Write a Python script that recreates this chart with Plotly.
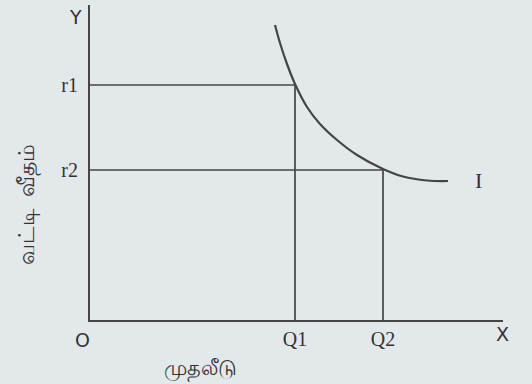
import plotly.graph_objects as go

# quantities (chart units, x: investment, y: interest rate)
q_vals = [205, 293]
r_vals = [235, 150]
q_labels = ["Q1", "Q2"]
r_labels = ["r1", "r2"]

# investment demand curve I
curve_x = [185, 190, 197, 205, 217, 230, 247, 267, 293, 313, 337, 358]
curve_y = [295, 277, 256, 236, 213, 196, 180, 165, 151, 143.5, 139.5, 139]

line_col = "#454545"
bg = "#e3e8eb"

# guide lines r -> curve -> Q
gx, gy = [], []
for q, r in zip(q_vals, r_vals):
    gx += [0, q, q, None]
    gy += [r, r, 0, None]

fig = go.Figure()
fig.add_trace(go.Scatter(x=gx, y=gy, mode="lines", line=dict(color=line_col, width=1.7), hoverinfo="skip"))
fig.add_trace(go.Scatter(x=curve_x, y=curve_y, mode="lines", line=dict(color=line_col, width=2.2, shape="spline", smoothing=1), hoverinfo="skip"))

serif = "Liberation Serif, DejaVu Serif, serif"
fig.update_layout(
    width=532, height=384,
    margin=dict(l=90, r=29, t=5, b=64),
    paper_bgcolor=bg, plot_bgcolor=bg,
    showlegend=False,
    xaxis=dict(range=[0, 413], showgrid=False, zeroline=False, showline=True, linecolor=line_col, linewidth=2,
               tickvals=q_vals, ticktext=q_labels, ticks="", tickfont=dict(family=serif, size=20, color="#333")),
    yaxis=dict(range=[0, 315], showgrid=False, zeroline=False, showline=True, linecolor=line_col, linewidth=2,
               tickvals=r_vals, ticktext=r_labels, ticks="", ticklabelstandoff=6,
               tickfont=dict(family=serif, size=20, color="#333")),
)

def px(x):
    return (x - 90) / 413

def py(y):
    return (320 - y) / 315

def label(text, x, y, size, family=None, angle=0):
    fig.add_annotation(text=text, x=px(x), y=py(y), xref="paper", yref="paper", showarrow=False,
                       xanchor="center", yanchor="middle", textangle=angle,
                       font=dict(family=family, size=size, color="#333"))

label("O", 82, 340, 19, "DejaVu Sans, sans-serif")
label("Y", 75, 17, 19, "DejaVu Sans, sans-serif")
label("X", 502, 334, 19, "DejaVu Sans, sans-serif")
label("I", 478, 180, 22, serif)
label("வட்டி  வீதம்", 25, 205, 22, angle=-90)
label("முதலீடு", 200, 368, 21)

fig.write_html("out.html", post_script="document.body.style.margin='0';",
               config={"displayModeBar": False})
